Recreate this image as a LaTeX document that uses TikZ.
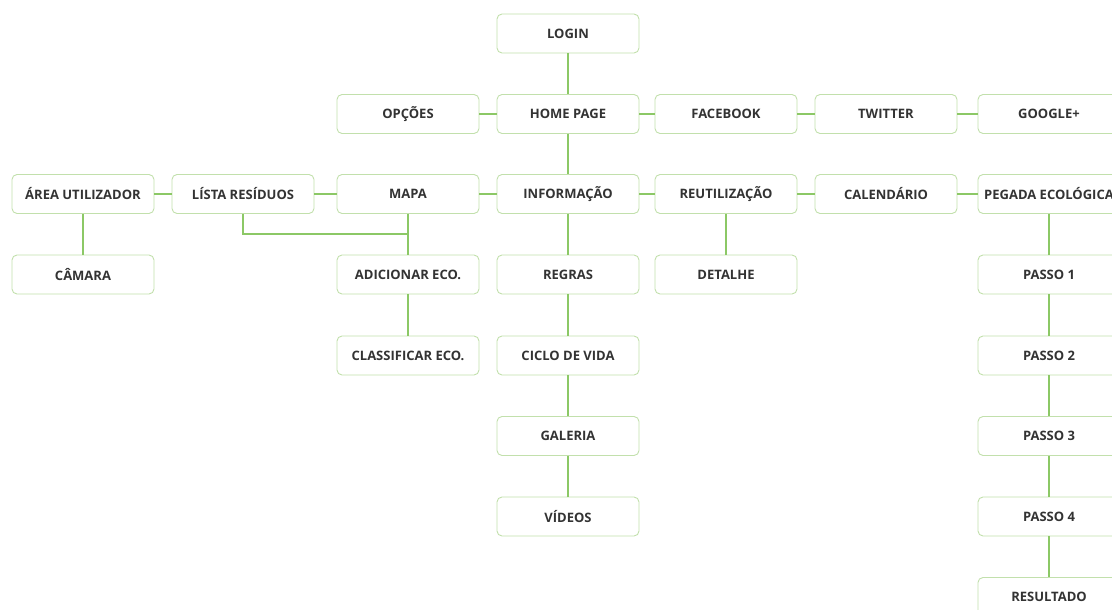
\documentclass[tikz,border=0pt]{standalone}
\usepackage{fontspec}
\setmainfont{Open Sans}
\usetikzlibrary{positioning}
\definecolor{boxline}{HTML}{C2E0AC}
\definecolor{linkline}{HTML}{8CC866}
\definecolor{txt}{HTML}{333333}
\tikzset{
  screen/.style={draw=boxline, line width=0.9pt, rounded corners=5pt, fill=white,
    minimum width=142pt, minimum height=39pt, inner sep=0pt,
    font=\fontsize{13}{15}\selectfont\bfseries, text=txt},
  link/.style={draw=linkline, line width=1.8pt}
}
\begin{document}
\begin{tikzpicture}[x=1pt,y=-1pt]
\useasboundingbox (0,0) rectangle (1112,610);
% column centres and row centres
\def\cA{83}\def\cB{243}\def\cC{408}\def\cD{568}\def\cE{726}\def\cF{886}\def\cG{1049}
\def\rA{33.5}\def\rB{114}\def\rC{194}\def\rD{274.5}\def\rE{355.5}\def\rF{436}\def\rG{516.5}\def\rH{597}
% elbow from the residue list down to the map branch
\coordinate (lsdrop) at (\cB,234);
\coordinate (lsjoin) at (\cC,234);
% screens
\node[screen] (login) at (\cD,\rA) {LOGIN};
\node[screen] (opcoes) at (\cC,\rB) {OPÇÕES};
\node[screen] (home) at (\cD,\rB) {HOME PAGE};
\node[screen] (facebook) at (\cE,\rB) {FACEBOOK};
\node[screen] (twitter) at (\cF,\rB) {TWITTER};
\node[screen] (google) at (\cG,\rB) {GOOGLE+};
\node[screen] (area) at (\cA,\rC) {ÁREA UTILIZADOR};
\node[screen] (lista) at (\cB,\rC) {LÍSTA RESÍDUOS};
\node[screen] (mapa) at (\cC,\rC) {MAPA};
\node[screen] (info) at (\cD,\rC) {INFORMAÇÃO};
\node[screen] (reutil) at (\cE,\rC) {REUTILIZAÇÃO};
\node[screen] (calend) at (\cF,\rC) {CALENDÁRIO};
\node[screen] (pegada) at (\cG,\rC) {PEGADA ECOLÓGICA};
\node[screen] (camara) at (\cA,\rD) {CÂMARA};
\node[screen] (adicionar) at (\cC,\rD) {ADICIONAR ECO.};
\node[screen] (regras) at (\cD,\rD) {REGRAS};
\node[screen] (detalhe) at (\cE,\rD) {DETALHE};
\node[screen] (passoA) at (\cG,\rD) {PASSO 1};
\node[screen] (classificar) at (\cC,\rE) {CLASSIFICAR ECO.};
\node[screen] (ciclo) at (\cD,\rE) {CICLO DE VIDA};
\node[screen] (passoB) at (\cG,\rE) {PASSO 2};
\node[screen] (galeria) at (\cD,\rF) {GALERIA};
\node[screen] (passoC) at (\cG,\rF) {PASSO 3};
\node[screen] (videos) at (\cD,\rG) {VÍDEOS};
\node[screen] (passoD) at (\cG,\rG) {PASSO 4};
\node[screen] (resultado) at (\cG,\rH) {RESULTADO};
% horizontal links
\draw[link] (opcoes) -- (home);
\draw[link] (home) -- (facebook);
\draw[link] (facebook) -- (twitter);
\draw[link] (twitter) -- (google);
\draw[link] (area) -- (lista);
\draw[link] (lista) -- (mapa);
\draw[link] (mapa) -- (info);
\draw[link] (info) -- (reutil);
\draw[link] (reutil) -- (calend);
\draw[link] (calend) -- (pegada);
% vertical links
\draw[link] (login) -- (home);
\draw[link] (home) -- (info);
\draw[link] (area) -- (camara);
\draw[link] (mapa) -- (adicionar);
\draw[link] (adicionar) -- (classificar);
\draw[link] (info) -- (regras);
\draw[link] (regras) -- (ciclo);
\draw[link] (ciclo) -- (galeria);
\draw[link] (galeria) -- (videos);
\draw[link] (reutil) -- (detalhe);
\draw[link] (pegada) -- (passoA);
\draw[link] (passoA) -- (passoB);
\draw[link] (passoB) -- (passoC);
\draw[link] (passoC) -- (passoD);
\draw[link] (passoD) -- (resultado);
\draw[link] (lista.south) -- (lsdrop) -- (lsjoin);
\end{tikzpicture}
\end{document}
